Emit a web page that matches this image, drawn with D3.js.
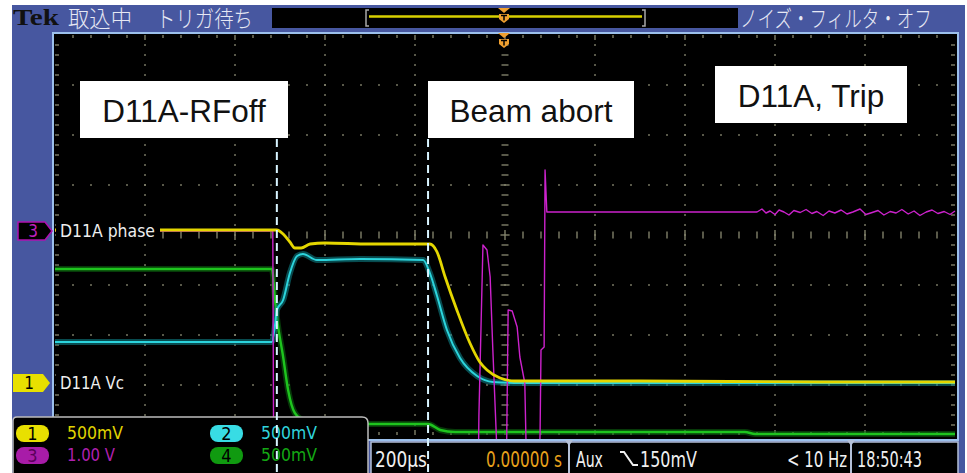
<!DOCTYPE html>
<html>
<head>
<meta charset="utf-8">
<script src="https://cdn.jsdelivr.net/npm/d3@7"></script>
<style>
  html, body { margin: 0; padding: 0; background: #fff; }
  svg { display: block; }
</style>
</head>
<body>
<svg id="scope" width="967" height="473"></svg>
<script>
// ---- acquisition settings ----
const timeRange = [-1000, 1000];          // µs, 200 µs/div, 10 div
const divRange = [-4, 4];                 // vertical divisions
const channelNames = ["1", "2", "3", "4"];
const channelScales = [0.5, 0.5, 1.0, 0.5];          // V/div
const channelScaleLabels = ["500mV", "500mV", "1.00 V", "500mV"];
const channelOffsets = [-2.96, -2.96, 0.08, -4.0];   // ground position, div
const channelLabels = ["D11A Vc", "", "D11A phase", ""];

// ---- waveforms: time (µs) and value (V) ----
// CH1 yellow: D11A Vc
const ch1T = [-1000, -507, -493, -478, -467, -453, -433, -400, -300, -167, -151, -133, -107, -78, -56, -40, -11, 22, 300, 700, 1000];
const ch1V = [1.53, 1.53, 1.49, 1.41, 1.35, 1.35, 1.39, 1.40, 1.39, 1.39, 1.31, 1.06, 0.73, 0.40, 0.21, 0.13, 0.05, 0.02, 0.02, 0.01, 0.01];
// CH2 cyan
const ch2T = [-1000, -518, -511, -507, -493, -478, -462, -449, -418, -322, -182, -167, -151, -129, -100, -62, -27, 33, 1000];
const ch2V = [0.41, 0.41, 0.58, 0.73, 0.83, 1.10, 1.27, 1.29, 1.23, 1.24, 1.23, 1.10, 0.87, 0.53, 0.25, 0.07, 0.01, 0.00, 0.00];
// CH3 magenta: D11A phase
const ch3T = [-1000, -516, -513, -62, -58, -49, -40, -33, -27, -18, -13, 0, 4, 7, 16, 27, 33, 44, 53, 71, 78, 80, 87, 89, 93,
  300, 560, 571, 580, 589, 600, 609, 620, 631, 642, 656, 669, 682, 693, 707, 720, 733, 747, 760, 773, 789, 802, 816, 829,
  842, 856, 869, 882, 896, 909, 922, 936, 949, 962, 976, 989, 1000];
const ch3V = [0, 0, -7, -7, -3.70, -0.28, -0.38, -0.92, -2.38, -4.38, -7, -7, -4.0, -1.58, -1.60, -1.92, -2.52, -3.04, -7, -7, -4.0, -2.38, -2.32, 1.22, 0.38,
  0.38, 0.38, 0.44, 0.36, 0.40, 0.33, 0.42, 0.38, 0.32, 0.41, 0.37, 0.43, 0.35, 0.39, 0.31, 0.40, 0.36, 0.42, 0.34, 0.38, 0.44, 0.33, 0.37, 0.41,
  0.32, 0.39, 0.36, 0.43, 0.34, 0.40, 0.31, 0.38, 0.42, 0.35, 0.39, 0.33, 0.40];
// CH4 green
const ch4T = [-1000, -518, -511, -507, -493, -482, -467, -444, -389, -171, -144, -111, 533, 556, 1000];
const ch4V = [1.66, 1.66, 1.35, 1.18, 0.78, 0.45, 0.22, 0.14, 0.11, 0.11, 0.05, 0.03, 0.03, 0.01, 0.01];

// ---- annotations ----
const eventLabels = ["D11A-RFoff", "Beam abort"];
const eventTimes = [-507, -171];
const statusLabel = "D11A, Trip";

// ---- screen texts ----
const headerLeft = ["取込中", "トリガ待ち"];
const headerRight = "ノイズ・フィルタ・オフ";
const timebaseLabel = "200µs";
const triggerPosLabel = "0.00000 s";
const triggerSource = "Aux";
const triggerLevel = "150mV";
const freqLabel = "< 10 Hz";
const clockLabel = "18:50:43";

// ---- drawing ----
const svg = d3.select("#scope");
const W = 967, H = 473;
const blue = "#4757a0";
const gridColor = "#8a8a72";
const traceColors = ["#e4d600", "#2cd4dc", "#cc22cc", "#1ec41e"];
const screenFont = "'Liberation Sans Narrow', 'DejaVu Sans Condensed', 'Roboto', sans-serif";

const x = d3.scaleLinear().domain(timeRange).range([55, 955]);
const yDiv = d3.scaleLinear().domain(divRange).range([435, 35]);
const yCh = i => v => yDiv(v / channelScales[i] + channelOffsets[i]);

// text squeezed horizontally into a given width (narrow instrument font)
function fitText(parent, s, tx, ty, width, attrs) {
  const t = parent.append("text").attr("x", 0).attr("y", 0).text(s);
  Object.entries(attrs).forEach(([k, v]) => t.attr(k, v));
  const natural = t.node().getComputedTextLength() || width;
  t.attr("transform", `translate(${tx},${ty}) scale(${width / natural},1)`);
  return t;
}

// outer panel
svg.append("rect").attr("x", 0).attr("y", 0).attr("width", W).attr("height", H).attr("fill", "#fff");
svg.append("rect").attr("x", 12).attr("y", 5).attr("width", 953).attr("height", 468).attr("fill", blue);

// header
fitText(svg, "Tek", 13, 25, 46, {
  "font-family": "'Liberation Serif', serif", "font-weight": "bold", "font-size": 24, "fill": "#111"
});
const hdrAttrs = { "font-family": "'Noto Sans CJK JP', sans-serif", "font-size": 23, "fill": "#e6e8f4", "font-weight": 300 };
fitText(svg, headerLeft[0], 68, 26.5, 64, hdrAttrs);
fitText(svg, headerLeft[1], 156, 26.5, 97, hdrAttrs);
fitText(svg, headerRight, 740, 26.5, 192, hdrAttrs);

// record-length bar
svg.append("rect").attr("x", 272).attr("y", 8).attr("width", 466).attr("height", 20).attr("fill", "#000");
svg.append("line").attr("x1", 369).attr("x2", 642).attr("y1", 16.5).attr("y2", 16.5)
  .attr("stroke", "#d8d000").attr("stroke-width", 2.5);
svg.append("path").attr("d", "M369,10 H366 V26 H369 M642,10 H645 V26 H642")
  .attr("fill", "none").attr("stroke", "#a8a8a8").attr("stroke-width", 1.5);

// graticule
svg.append("rect").attr("x", 53).attr("y", 33).attr("width", 905).attr("height", 407)
  .attr("fill", "#000").attr("stroke", "#9cc0ec").attr("stroke-width", 2);

const grid = svg.append("g");
const dots = [];
for (let k = 1; k <= 9; k++) {
  if (k === 5) continue;
  const t = -1000 + 200 * k;
  for (let j = 1; j < 40; j++) dots.push([t, -4 + 0.2 * j]);
}
for (let d = -3; d <= 3; d++) {
  if (d === 0) continue;
  for (let j = 1; j < 50; j++) dots.push([-1000 + 40 * j, d]);
}
grid.selectAll("rect.dot").data(dots).join("rect").attr("class", "dot")
  .attr("x", d => x(d[0]) - 0.8).attr("y", d => yDiv(d[1]) - 0.8)
  .attr("width", 1.6).attr("height", 1.6).attr("fill", gridColor);

const ticks = [];
for (let j = 1; j < 40; j++) {
  const d = -4 + 0.2 * j;
  const major = Math.abs(d - Math.round(d)) < 1e-6;
  const len = major ? 4.5 : 3.5;
  ticks.push([x(0) - len, yDiv(d), x(0) + len, yDiv(d)]);       // centre vertical
  ticks.push([55, yDiv(d), 59, yDiv(d)]);                        // left edge
  ticks.push([951, yDiv(d), 955, yDiv(d)]);                      // right edge
}
for (let j = 1; j < 50; j++) {
  const t = -1000 + 40 * j;
  const major = j % 5 === 0;
  const len = major ? 5 : 3.5;
  ticks.push([x(t), yDiv(0) - len, x(t), yDiv(0) + len]);       // centre horizontal
  ticks.push([x(t), 35, x(t), major ? 40 : 38]);                 // top edge
  ticks.push([x(t), major ? 430 : 432, x(t), 435]);              // bottom edge
}
grid.selectAll("line.tick").data(ticks).join("line").attr("class", "tick")
  .attr("x1", d => d[0]).attr("y1", d => d[1]).attr("x2", d => d[2]).attr("y2", d => d[3])
  .attr("stroke", gridColor).attr("stroke-width", 1.3);

// traces
svg.append("clipPath").attr("id", "screenClip").append("rect")
  .attr("x", 54).attr("y", 34).attr("width", 903).attr("height", 405);
const traces = svg.append("g").attr("clip-path", "url(#screenClip)");

const series = [
  { i: 3, t: ch4T, v: ch4V, curve: d3.curveMonotoneX, w: 2.4, halo: "#0c6a10" },
  { i: 1, t: ch2T, v: ch2V, curve: d3.curveMonotoneX, w: 2, halo: "#0e8890" },
  { i: 2, t: ch3T, v: ch3V, curve: d3.curveLinear, w: 1.4 },
  { i: 0, t: ch1T, v: ch1V, curve: d3.curveMonotoneX, w: 2.8 }
];
series.forEach(s => {
  const pts = s.t.map((t, k) => [t, s.v[k]]);
  const line = d3.line().x(d => x(d[0])).y(d => yCh(s.i)(d[1])).curve(s.curve);
  if (s.halo) {
    traces.append("path").attr("d", line(pts)).attr("fill", "none")
      .attr("stroke", s.halo).attr("stroke-width", 6).attr("stroke-opacity", 0.55);
  }
  traces.append("path").attr("d", line(pts)).attr("fill", "none")
    .attr("stroke", traceColors[s.i]).attr("stroke-width", s.w)
    .attr("stroke-linejoin", "round");
});

// channel ground markers and labels
const labelFont = screenFont;
// CH3 marker
const y3 = yDiv(channelOffsets[2]);
svg.append("rect").attr("x", 56).attr("y", y3 - 9).attr("width", 104).attr("height", 18).attr("fill", "#000");
svg.append("path").attr("d", `M18,${y3 - 9} H45 L52,${y3} L45,${y3 + 9} H18 Z`)
  .attr("fill", "#000").attr("stroke", "#b010b0").attr("stroke-width", 1.5);
svg.append("text").attr("x", 33).attr("y", y3 + 6).attr("text-anchor", "middle")
  .attr("font-family", labelFont).attr("font-size", 17).attr("fill", "#c020c0").text(channelNames[2]);
fitText(svg, channelLabels[2], 60, y3 + 6, 95, { "font-family": labelFont, "font-size": 17, "fill": "#eeeeee" });
// CH1 marker
const y1 = yDiv(channelOffsets[0]);
svg.append("rect").attr("x", 56).attr("y", y1 - 9).attr("width", 72).attr("height", 18).attr("fill", "#000");
svg.append("path").attr("d", `M13,${y1 - 9} H43 L50,${y1} L43,${y1 + 9} H13 Z`)
  .attr("fill", "#e8e000");
svg.append("text").attr("x", 29).attr("y", y1 + 6).attr("text-anchor", "middle")
  .attr("font-family", labelFont).attr("font-size", 17).attr("fill", "#000").text(channelNames[0]);
fitText(svg, channelLabels[0], 60, y1 + 6, 64, { "font-family": labelFont, "font-size": 17, "fill": "#eeeeee" });

// trigger position markers
const trigX = x(0) - 1;
function trigMarker(y) {
  const g = svg.append("g").attr("transform", `translate(${trigX},${y})`);
  g.append("path").attr("d", "M-6,0 H6 L0,5 Z").attr("fill", "#f0a030");
  g.append("path").attr("d", "M-5,6 H5 V11 L0,15 L-5,11 Z").attr("fill", "#f0a030");
  g.append("path").attr("d", "M-3,7.5 H3 M0,7.5 V12.5").attr("stroke", "#000").attr("stroke-width", 1.5);
}
trigMarker(8);
trigMarker(33);

// channel scale readout
svg.append("path").attr("d", "M13,476 V421 Q13,417 17,417 H362 Q368,417 368,423 V476")
  .attr("fill", "#000").attr("stroke", "#bcbcbc").attr("stroke-width", 1.5);
const badgeFill = ["#e8e000", "#38dce4", "#a81ca8", "#109a10"];
const badgeText = ["#000", "#000", "#5a005a", "#000"];
const scaleText = ["#e0d400", "#30d4dc", "#b020b0", "#14a814"];
const legendPos = [[16, 425], [210, 425], [16, 447], [210, 447]];
channelNames.forEach((n, i) => {
  const [bx, by] = legendPos[i];
  svg.append("rect").attr("x", bx).attr("y", by).attr("width", 33).attr("height", 17)
    .attr("rx", 8).attr("fill", badgeFill[i]);
  svg.append("text").attr("x", bx + 16.5).attr("y", by + 14.5).attr("text-anchor", "middle")
    .attr("font-family", labelFont).attr("font-size", 18).attr("fill", badgeText[i]).text(n);
  fitText(svg, channelScaleLabels[i], bx + 51, by + 14, channelScaleLabels[i] === "1.00 V" ? 48 : 56,
    { "font-family": labelFont, "font-size": 18, "fill": scaleText[i] });
});

// timebase / trigger readout strip
svg.append("rect").attr("x", 371).attr("y", 442).attr("width", 587).attr("height", 36)
  .attr("fill", "#000").attr("stroke", "#b4c0d8").attr("stroke-width", 1.5);
[569, 851].forEach(dx => {
  svg.append("line").attr("x1", dx).attr("x2", dx).attr("y1", 442).attr("y2", 473)
    .attr("stroke", "#b4c0d8").attr("stroke-width", 2);
  svg.append("path").attr("d", `M${dx - 4},440 H${dx + 4} L${dx},446 Z`).attr("fill", "#b4c0d8");
});
const stripAttrs = c => ({ "font-family": screenFont, "font-size": 21, "fill": c });
fitText(svg, timebaseLabel, 375, 467, 52, stripAttrs("#f0f0f0"));
fitText(svg, triggerPosLabel, 486, 467, 76, stripAttrs("#e8a21c"));
fitText(svg, triggerSource, 576, 467, 27, stripAttrs("#f0f0f0"));
svg.append("path").attr("d", "M620,452 H624 L633,465 H638").attr("fill", "none")
  .attr("stroke", "#f0f0f0").attr("stroke-width", 2);
fitText(svg, triggerLevel, 640, 467, 57, stripAttrs("#f0f0f0"));
fitText(svg, freqLabel, 787, 467, 60, stripAttrs("#f0f0f0"));
fitText(svg, clockLabel, 857, 467, 65, stripAttrs("#f0f0f0"));

// event annotations
eventTimes.forEach(t => {
  svg.append("line").attr("x1", x(t)).attr("x2", x(t)).attr("y1", 139).attr("y2", 473)
    .attr("stroke", "#d8f4ff").attr("stroke-width", 2).attr("stroke-dasharray", "8,5");
});
const boxes = [
  { x: 80, y: 81, w: 208, h: 57, s: eventLabels[0] },
  { x: 428, y: 81, w: 206, h: 57, s: eventLabels[1] },
  { x: 715, y: 66, w: 192, h: 57, s: statusLabel }
];
boxes.forEach(b => {
  svg.append("rect").attr("x", b.x).attr("y", b.y).attr("width", b.w).attr("height", b.h).attr("fill", "#fff");
  svg.append("text").attr("x", b.x + b.w / 2).attr("y", b.y + 41).attr("text-anchor", "middle")
    .attr("font-family", "'Liberation Sans', Arial, sans-serif").attr("font-size", 31.5)
    .attr("fill", "#111").text(b.s);
});
</script>
</body>
</html>
